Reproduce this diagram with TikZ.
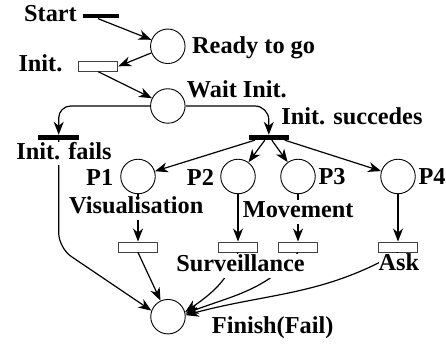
\documentclass[tikz,border=0pt]{standalone}
\usepackage{fontspec}
\setmainfont{Liberation Serif}
\usetikzlibrary{arrows.meta}
\begin{document}
\begin{tikzpicture}[x=1pt,y=1pt,
  place/.style={circle,draw,line width=0.9pt,minimum size=34.5pt,inner sep=0pt},
  trans/.style={rectangle,draw=black!75,line width=0.9pt,minimum width=39pt,minimum height=10pt,inner sep=0pt},
  bar/.style={rectangle,fill=black,minimum width=40.5pt,minimum height=5pt,inner sep=0pt},
  lbl/.style={font=\fontsize{24.3}{27}\selectfont\bfseries,inner xsep=0pt,inner ysep=1pt,text height=16.3pt,text depth=5pt,anchor=base west},
  wlbl/.style={lbl,fill=white},
  arr/.style={line width=1.2pt,-{Stealth[length=13pt,width=10pt,inset=4pt]}}]
\useasboundingbox (0,0) rectangle (446,344);
% places and transitions
\node[bar,minimum width=36.6pt,minimum height=4.5pt] (startbar) at (101,327.8) {};
\node[place] (ready) at (167.8,297.7) {};
\node[trans] (init) at (98.3,277.7) {};
\node[place] (wait) at (167.8,238) {};
\node[bar] (fails) at (58.7,206.5) {};
\node[bar] (succ) at (268.8,206.5) {};
\node[place] (p1) at (138,167.5) {};
\node[place] (p2) at (238,167.5) {};
\node[place] (p3) at (298,167.5) {};
\node[place] (p4) at (398,167.5) {};
\node[trans] (t1) at (138,97) {};
\node[trans] (t2) at (238,97) {};
\node[trans] (t3) at (298,97) {};
\node[trans] (t4) at (398,97) {};
\node[place] (fin) at (168,27.3) {};
\coordinate (bend) at (58.7,96);
% arcs
\draw[arr] ([xshift=-3pt]startbar.south) -- (ready);
\draw[arr] (ready) -- (init.east);
\draw[arr] (init.south) -- (wait);
\draw[arr,rounded corners=12pt] (wait.west) -| (fails.north);
\draw[arr,rounded corners=14pt] (wait.east) -| (succ.north);
\draw[arr] ([xshift=-14pt]succ.south) -- (p1);
\draw[arr] ([xshift=-4pt]succ.south) -- (p2);
\draw[arr] ([xshift=3pt]succ.south) -- (p3);
\draw[arr] ([xshift=16pt]succ.south) -- (p4);
\draw[arr] (p1) -- (t1);
\draw[arr] (p2) -- (t2);
\draw[arr] (p3) -- (t3);
\draw[arr] (p4) -- (t4);
\draw[arr,rounded corners=15pt] (fails.south) -- (bend) -- (fin.160);
\draw[arr] (t1.south) -- (fin);
\draw[arr] (t2.south) to[out=-110,in=35] (fin.15);
\draw[arr] (t3.south) to[out=-130,in=21] (fin.10);
\draw[arr] (t4.south) to[out=-150,in=15] (fin.5);
% labels
\node[lbl] (lstart) at (24,322.3) {Start};
\node[lbl] (lready) at (192,290) {Ready to go};
\node[lbl] (linit) at (18.3,272) {Init.};
\node[lbl] (lwait) at (186.7,246.3) {Wait Init.};
\node[lbl] (lsucc) at (281.2,219) {Init. succedes};
\node[wlbl] (lfails) at (16.2,184.5) {Init. fails};
\node[lbl] (lp1) at (86,158) {P1};
\node[lbl] (lp2) at (186.7,158) {P2};
\node[lbl] (lp3) at (318.3,159.7) {P3};
\node[lbl] (lp4) at (418.3,159.7) {P4};
\node[wlbl] (lvis) at (69,130) {Visualisation};
\node[wlbl] (lmov) at (242.7,126.3) {Movement};
\node[wlbl] (lsurv) at (176.2,72.3) {Surveillance};
\node[wlbl] (lask) at (378.3,73.5) {Ask};
\node[lbl] (lfin) at (211.7,10.7) {Finish(Fail)};
\end{tikzpicture}
\end{document}
